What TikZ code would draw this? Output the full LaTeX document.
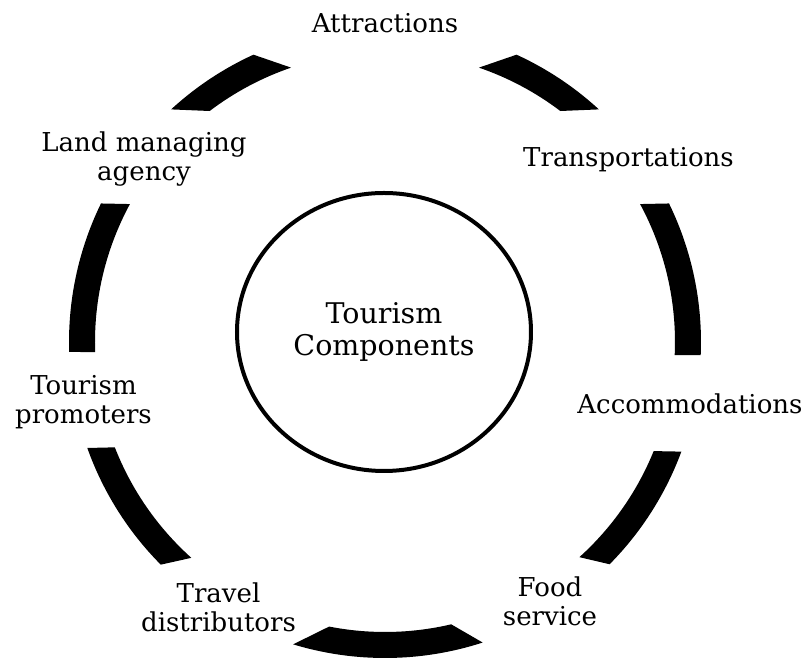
\documentclass[tikz,border=0pt]{standalone}
\usepackage{fontspec}
\setmainfont{DejaVu Serif}
\usetikzlibrary{shapes.geometric}

\begin{document}
\begin{tikzpicture}[
  x=1pt, y=1pt,
  comptext/.style={align=center, font=\fontsize{26}{29}\selectfont, inner sep=0pt},
  hubnode/.style={draw, ellipse, line width=4pt, minimum width=294pt, minimum height=278pt, inner sep=0pt, align=center, font=\fontsize{28.5}{32}\selectfont},
  ringseg/.style={fill=black}
]
\useasboundingbox (-385,-318) rectangle (419,342);
\node[hubnode] (hub) at (-1,10) {Tourism\\Components};
\node[comptext] (attr)   at (0,319)       {Attractions};
\node[comptext] (transp) at (243.5,182)   {Transportations};
\node[comptext] (accom)  at (305,-61.5)   {Accommodations};
\node[comptext] (food)   at (165,-259.7)  {Food\\service};
\node[comptext] (travel) at (-166.5,-265.5) {Travel\\distributors};
\node[comptext] (promo)  at (-301.5,-60.5) {Tourism\\promoters};
\node[comptext] (land)   at (-241,182.5)  {Land managing\\agency};
% thick ring segments between the components
\foreach \oa/\ob/\ia/\ib in {114.6/132.6/127.2/108.9, 47.4/65.4/71.1/52.8,
    -2.4/26.0/28.4/-2.6, -44.7/-20.3/-22.1/-47.9, -106.9/-72/-76.8/-101.1,
    199.6/224.8/228.1/201.3, 154.0/181.8/182.0/151.6}
  \fill[ringseg] (\oa:316) arc[start angle=\oa, end angle=\ob, radius=316]
    -- (\ia:290) arc[start angle=\ia, end angle=\ib, radius=290] -- cycle;
\end{tikzpicture}
\end{document}
